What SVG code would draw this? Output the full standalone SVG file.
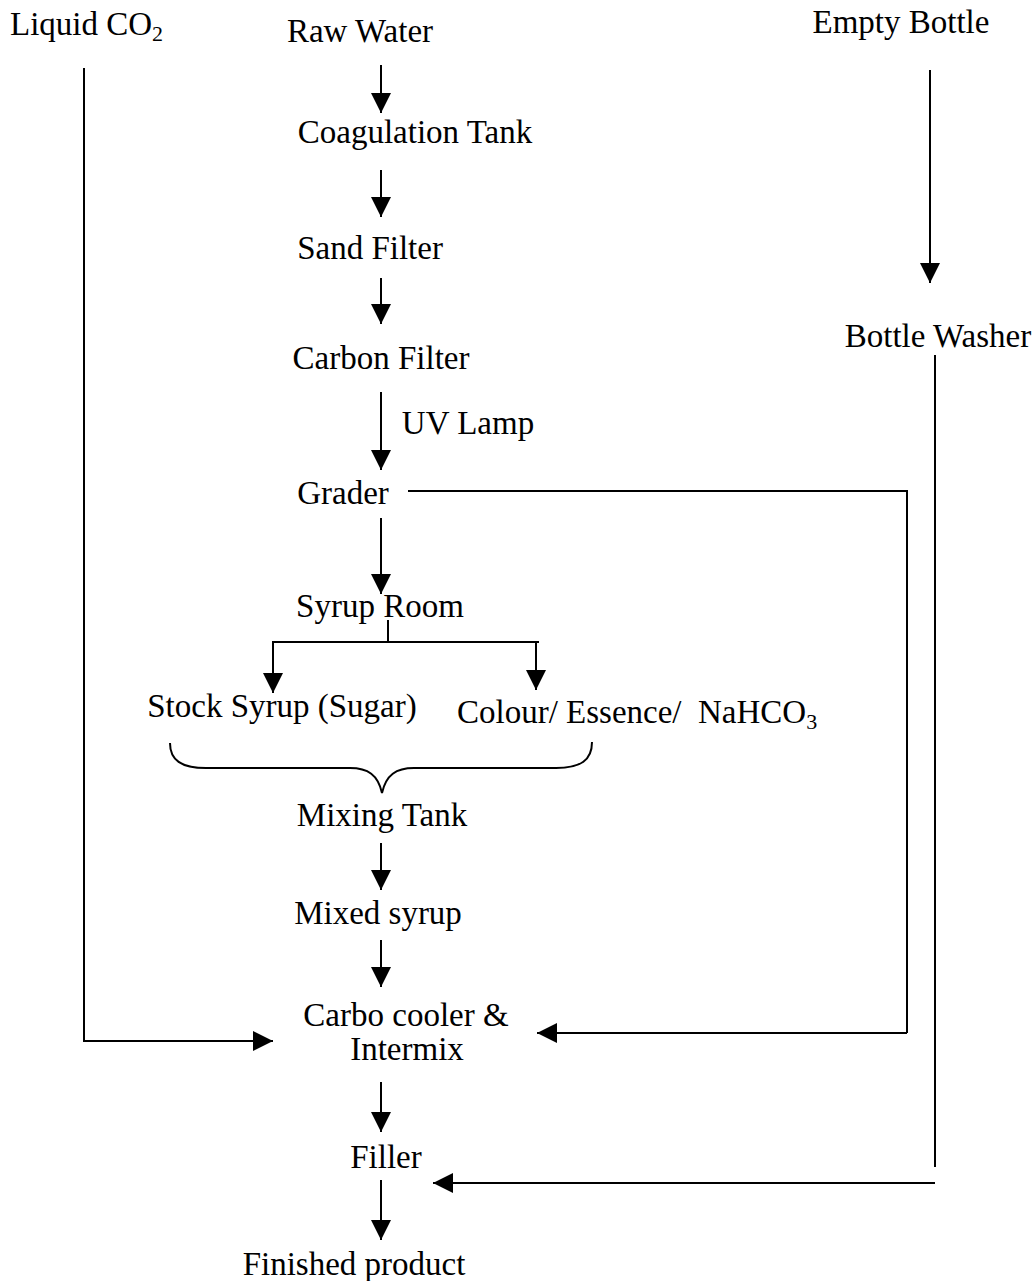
<svg xmlns="http://www.w3.org/2000/svg" width="1036" height="1281" viewBox="0 0 1036 1281">
<style>
text{font-family:"Liberation Serif","Times New Roman",serif;font-size:33px;fill:#000}
.m{text-anchor:middle}
.pre{white-space:pre}
.ln{fill:none;stroke:#000;stroke-width:2}
</style>
<defs>
<marker id="ah" viewBox="0 0 20 20" refX="20" refY="10" markerWidth="20" markerHeight="20" markerUnits="userSpaceOnUse" orient="auto">
<path d="M0,0 L20,10 L0,20 Z" fill="#000"/>
</marker>
</defs>
<rect width="1036" height="1281" fill="#fff"/>
<g id="n-co2"><text x="10" y="35">Liquid CO<tspan font-size="22" dy="6">2</tspan></text></g>
<g id="n-raw"><text class="m" x="360" y="42">Raw Water</text></g>
<g id="n-empty"><text class="m" x="901" y="33">Empty Bottle</text></g>
<g id="n-coag"><text class="m" x="415" y="143">Coagulation Tank</text></g>
<g id="n-sand"><text class="m" x="370" y="259">Sand Filter</text></g>
<g id="n-carbon"><text class="m" x="381" y="369">Carbon Filter</text></g>
<g id="n-uv"><text class="m" x="468" y="434">UV Lamp</text></g>
<g id="n-grader"><text class="m" x="343" y="504">Grader</text></g>
<g id="n-washer"><text class="m" x="938" y="347">Bottle Washer</text></g>
<g id="n-syrup"><text class="m" x="380" y="617">Syrup Room</text></g>
<g id="n-stock"><text class="m" x="282" y="717">Stock Syrup (Sugar)</text></g>
<g id="n-colour"><text class="pre" x="457" y="723" xml:space="preserve" font-size="32">Colour/ Essence/  NaHCO<tspan font-size="22" dy="6">3</tspan></text></g>
<g id="n-mixing"><text class="m" x="382" y="826">Mixing Tank</text></g>
<g id="n-mixed"><text class="m" x="378" y="924">Mixed syrup</text></g>
<g id="n-carbo"><text class="m" x="406" y="1026">Carbo cooler &amp;</text><text class="m" x="407" y="1060">Intermix</text></g>
<g id="n-filler"><text class="m" x="386" y="1168">Filler</text></g>
<g id="n-finished"><text class="m" x="354" y="1275">Finished product</text></g>
<g id="connectors" class="ln">
<path class="ln" d="M381,65 V113" marker-end="url(#ah)"/>
<path class="ln" d="M381,170 V217" marker-end="url(#ah)"/>
<path class="ln" d="M381,278 V324" marker-end="url(#ah)"/>
<path class="ln" d="M381,392 V470" marker-end="url(#ah)"/>
<path class="ln" d="M381,518 V594" marker-end="url(#ah)"/>
<path class="ln" d="M388,620 V642"/>
<path class="ln" d="M272,642 H539"/>
<path class="ln" d="M273,642 V693" marker-end="url(#ah)"/>
<path class="ln" d="M536,642 V690" marker-end="url(#ah)"/>
<path class="ln" d="M170,743 C170,760 181,768 206,768 H350 C368,768 378,775 382,793 C386,775 396,768 414,768 H556 C581,768 592,760 592,742"/>
<path class="ln" d="M381,843 V890" marker-end="url(#ah)"/>
<path class="ln" d="M381,940 V987" marker-end="url(#ah)"/>
<path class="ln" d="M381,1082 V1132" marker-end="url(#ah)"/>
<path class="ln" d="M381,1180 V1240" marker-end="url(#ah)"/>
<path class="ln" d="M84,68 V1041 H273" marker-end="url(#ah)"/>
<path class="ln" d="M930,70 V283" marker-end="url(#ah)"/>
<path class="ln" d="M408,491 H907 V1033"/>
<path class="ln" d="M907,1033 H537" marker-end="url(#ah)"/>
<path class="ln" d="M935,355 V1167"/>
<path class="ln" d="M935,1183 H433" marker-end="url(#ah)"/>
</g>
</svg>
